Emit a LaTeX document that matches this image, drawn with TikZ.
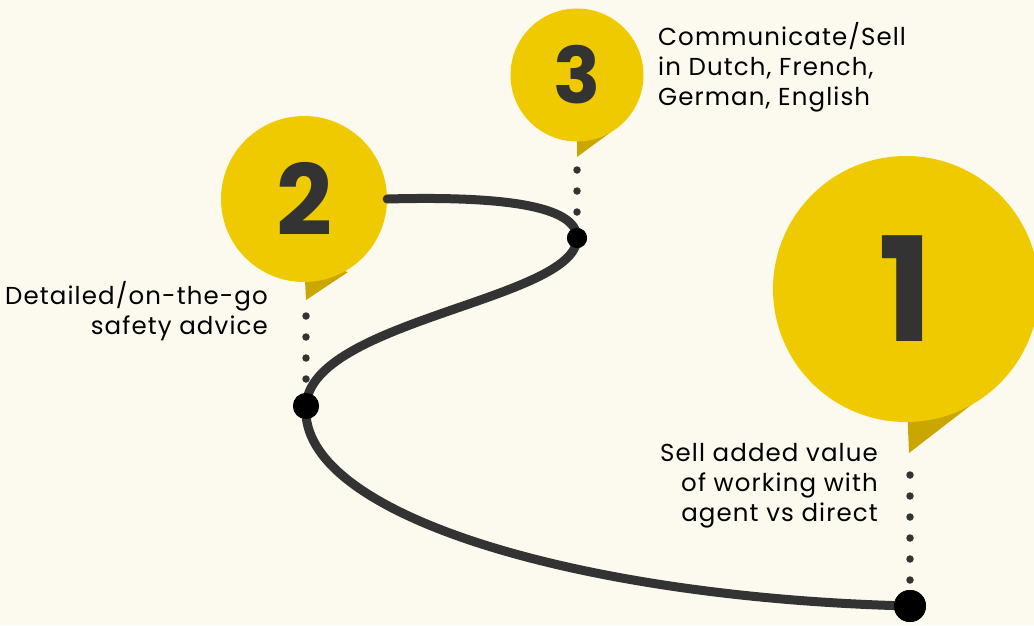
\documentclass[tikz,border=0pt]{standalone}
\usepackage{fontspec}
\setmainfont{Poppins}
\newfontfamily\lblfont[LetterSpace=4.5]{Poppins}
\definecolor{bg}{HTML}{FCFAEE}
\definecolor{pinY}{HTML}{F0CA00}
\definecolor{pinD}{HTML}{C9A700}
\definecolor{ink}{HTML}{333333}
\tikzset{
  pin/.style={circle, fill=pinY, inner sep=0pt, text=ink},
  dotpt/.style={circle, fill=black, inner sep=0pt},
  road/.style={draw=ink, line width=9pt, line cap=round},
  dotline/.style={draw=ink, line width=7.5pt, line cap=round, dash pattern=on 0pt off 21pt},
  lbl/.style={font=\lblfont\fontsize{24.5}{30}\selectfont, text=black, inner sep=0pt}
}
\begin{document}
\begin{tikzpicture}[x=1pt,y=-1pt]
\path[fill=bg] (0,0) rectangle (1034,625);
\useasboundingbox (0,0) rectangle (1034,625);
% tails
\fill[pinD] (906,380) -- (909,453) -- (975,402) -- cycle;
\fill[pinD] (304,260) -- (306,300) -- (348,272) -- cycle;
\fill[pinD] (577,120) -- (577,157) -- (611,132) -- cycle;
% pins
\node[pin, minimum size=266pt, font=\fontsize{145}{145}\selectfont\bfseries] (c1) at (906,289) {1};
\node[pin, minimum size=166pt, font=\fontsize{98}{98}\selectfont\bfseries] (c2) at (304,199) {2};
\node[pin, minimum size=133pt, font=\fontsize{78}{78}\selectfont\bfseries] (c3) at (577,75) {3};
% tail tips
\coordinate (t1) at (910,475);
\coordinate (t2) at (306,316);
\coordinate (t3) at (577,170);
% road points
\node[dotpt, minimum size=32pt] (p1) at (910,606) {};
\node[dotpt, minimum size=26pt] (p2) at (306,406) {};
\node[dotpt, minimum size=20pt] (p3) at (577,238) {};
% road
\draw[road] (c2.east) .. controls (500,196) and (577,205) .. (p3.center)
  .. controls (577,300) and (310,320) .. (p2.center)
  .. controls (298,515) and (580,598) .. (p1.center);
\node[dotpt, minimum size=32pt] at (p1) {};
\node[dotpt, minimum size=26pt] at (p2) {};
\node[dotpt, minimum size=20pt] at (p3) {};
% dotted connectors
\draw[dotline] (t1) -- (910,580);
\draw[dotline] (t2) -- (306,382);
\draw[dotline] (t3) -- (577,222);
% labels
\node[lbl, anchor=north west, align=left] (l3) at (658,22) {Communicate/Sell\\in Dutch, French,\\German, English};
\node[lbl, anchor=north east, align=right] (l2) at (268,281) {Detailed/on-the-go\\safety advice};
\node[lbl, anchor=north east, align=right] (l1) at (878,443) {Sell added value\\of working with\\agent vs direct};
\end{tikzpicture}
\end{document}
